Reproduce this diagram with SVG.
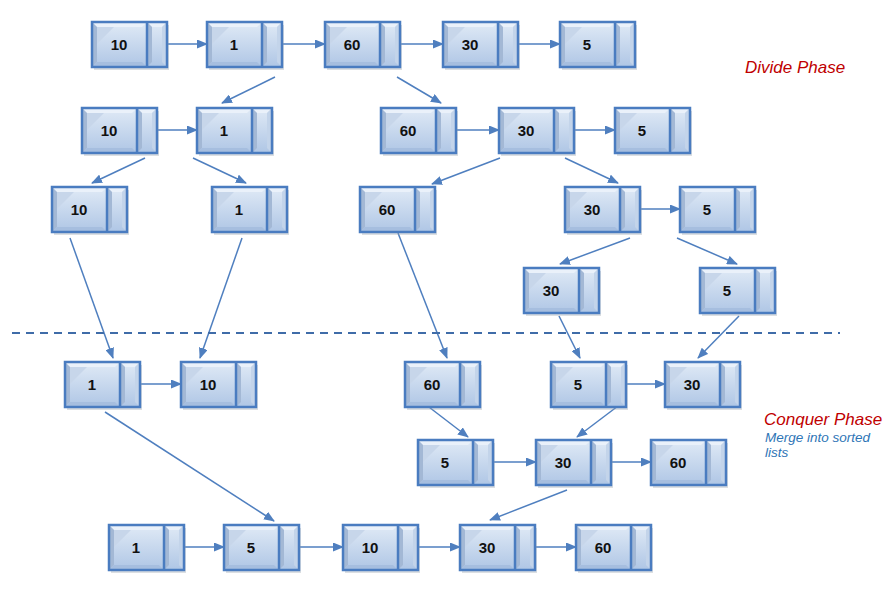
<svg xmlns="http://www.w3.org/2000/svg" xmlns:xlink="http://www.w3.org/1999/xlink" width="887" height="596" viewBox="0 0 887 596">
<style>
.num{font-family:"Liberation Sans",Arial,sans-serif;font-weight:bold;font-size:15px;fill:#111;text-anchor:middle}
.conn line{stroke:#4f7fbf;stroke-width:1.5;marker-end:url(#ah)}
.ttl{font-family:"Liberation Sans",Arial,sans-serif;font-style:italic;fill:#c00000}
.sub{font-family:"Liberation Sans",Arial,sans-serif;font-style:italic;font-size:13.5px;fill:#2e75b6}
</style>
<defs>
<linearGradient id="g" x1="0" y1="0" x2="0" y2="1">
<stop offset="0" stop-color="#e0eaf6"/>
<stop offset="1" stop-color="#afc6e5"/>
</linearGradient>
<marker id="ah" markerUnits="userSpaceOnUse" markerWidth="11" markerHeight="9" refX="10" refY="4.5" orient="auto">
<path d="M0,0 L11,4.5 L0,9 Z" fill="#4f7fbf"/>
</marker>
<g id="node">
<rect x="2" y="3" width="75" height="45" fill="#9aa3ad" opacity="0.35"/>
<rect x="0" y="0" width="75" height="45" fill="url(#g)"/>
<polygon points="0,0 55,0 50,5 5,5" fill="#eaf1fa"/>
<polygon points="0,0 5,5 5,40 0,45" fill="#a3b8d5"/>
<polygon points="0,45 5,40 50,40 55,45" fill="#a6bedf"/>
<polygon points="5,5 22,5 5,22" fill="#c7d6ea"/>
<polygon points="55,0 75,0 70,5 60,5" fill="#eaf1fa"/>
<polygon points="55,0 60,5 60,40 55,45" fill="#a3b8d5"/>
<polygon points="75,0 70,5 70,40 75,45" fill="#c3d4ea"/>
<rect x="0" y="0" width="75" height="45" fill="none" stroke="#4a7cc0" stroke-width="2.5"/>
<line x1="55" y1="0" x2="55" y2="45" stroke="#4a7cc0" stroke-width="2.5"/>
</g>
</defs>
<rect width="887" height="596" fill="#fff"/>

<g class="conn" id="connectors">
<line x1="154" y1="44" x2="207" y2="44"/>
<line x1="269" y1="44" x2="325" y2="44"/>
<line x1="387" y1="44" x2="443" y2="44"/>
<line x1="505" y1="44" x2="560" y2="44"/>
<line x1="144" y1="130" x2="197" y2="130"/>
<line x1="443" y1="130" x2="499" y2="130"/>
<line x1="561" y1="130" x2="615" y2="130"/>
<line x1="627" y1="209" x2="680" y2="209"/>
<line x1="127" y1="384" x2="181" y2="384"/>
<line x1="613" y1="384" x2="665" y2="384"/>
<line x1="480" y1="462" x2="536" y2="462"/>
<line x1="598" y1="462" x2="651" y2="462"/>
<line x1="171" y1="547" x2="224" y2="547"/>
<line x1="286" y1="547" x2="343" y2="547"/>
<line x1="405" y1="547" x2="460" y2="547"/>
<line x1="522" y1="547" x2="576" y2="547"/>
<line x1="275" y1="77" x2="222" y2="103"/>
<line x1="397" y1="77" x2="441" y2="103"/>
<line x1="145" y1="158" x2="92" y2="183"/>
<line x1="193" y1="158" x2="246" y2="183"/>
<line x1="500" y1="158" x2="432" y2="184"/>
<line x1="565" y1="158" x2="618" y2="183"/>
<line x1="630" y1="238" x2="560" y2="264"/>
<line x1="677" y1="238" x2="737" y2="264"/>
<line x1="70" y1="238" x2="113" y2="358"/>
<line x1="242" y1="238" x2="200" y2="358"/>
<line x1="398" y1="233" x2="447" y2="358"/>
<line x1="559" y1="316" x2="580" y2="358"/>
<line x1="739" y1="316" x2="698" y2="358"/>
<line x1="425" y1="404" x2="468" y2="437"/>
<line x1="618" y1="406" x2="577" y2="437"/>
<line x1="105" y1="412" x2="274" y2="521"/>
<line x1="567" y1="490" x2="490" y2="520"/>
</g>

<line id="divider" x1="12" y1="333" x2="840" y2="333" stroke="#3f6ca8" stroke-width="2" stroke-dasharray="8,6"/>

<g id="d1a" transform="translate(92,22)"><use xlink:href="#node" href="#node"/><text class="num" x="27" y="28">10</text></g>
<g id="d1b" transform="translate(207,22)"><use xlink:href="#node" href="#node"/><text class="num" x="27" y="28">1</text></g>
<g id="d1c" transform="translate(325,22)"><use xlink:href="#node" href="#node"/><text class="num" x="27" y="28">60</text></g>
<g id="d1d" transform="translate(443,22)"><use xlink:href="#node" href="#node"/><text class="num" x="27" y="28">30</text></g>
<g id="d1e" transform="translate(560,22)"><use xlink:href="#node" href="#node"/><text class="num" x="27" y="28">5</text></g>

<g id="d2a" transform="translate(82,108)"><use xlink:href="#node" href="#node"/><text class="num" x="27" y="28">10</text></g>
<g id="d2b" transform="translate(197,108)"><use xlink:href="#node" href="#node"/><text class="num" x="27" y="28">1</text></g>
<g id="d2c" transform="translate(381,108)"><use xlink:href="#node" href="#node"/><text class="num" x="27" y="28">60</text></g>
<g id="d2d" transform="translate(499,108)"><use xlink:href="#node" href="#node"/><text class="num" x="27" y="28">30</text></g>
<g id="d2e" transform="translate(615,108)"><use xlink:href="#node" href="#node"/><text class="num" x="27" y="28">5</text></g>

<g id="d3a" transform="translate(52,187)"><use xlink:href="#node" href="#node"/><text class="num" x="27" y="28">10</text></g>
<g id="d3b" transform="translate(212,187)"><use xlink:href="#node" href="#node"/><text class="num" x="27" y="28">1</text></g>
<g id="d3c" transform="translate(360,187)"><use xlink:href="#node" href="#node"/><text class="num" x="27" y="28">60</text></g>
<g id="d3d" transform="translate(565,187)"><use xlink:href="#node" href="#node"/><text class="num" x="27" y="28">30</text></g>
<g id="d3e" transform="translate(680,187)"><use xlink:href="#node" href="#node"/><text class="num" x="27" y="28">5</text></g>

<g id="d4a" transform="translate(524,268)"><use xlink:href="#node" href="#node"/><text class="num" x="27" y="28">30</text></g>
<g id="d4b" transform="translate(700,268)"><use xlink:href="#node" href="#node"/><text class="num" x="27" y="28">5</text></g>

<g id="c1a" transform="translate(65,362)"><use xlink:href="#node" href="#node"/><text class="num" x="27" y="28">1</text></g>
<g id="c1b" transform="translate(181,362)"><use xlink:href="#node" href="#node"/><text class="num" x="27" y="28">10</text></g>
<g id="c1c" transform="translate(405,362)"><use xlink:href="#node" href="#node"/><text class="num" x="27" y="28">60</text></g>
<g id="c1d" transform="translate(551,362)"><use xlink:href="#node" href="#node"/><text class="num" x="27" y="28">5</text></g>
<g id="c1e" transform="translate(665,362)"><use xlink:href="#node" href="#node"/><text class="num" x="27" y="28">30</text></g>

<g id="c2a" transform="translate(418,440)"><use xlink:href="#node" href="#node"/><text class="num" x="27" y="28">5</text></g>
<g id="c2b" transform="translate(536,440)"><use xlink:href="#node" href="#node"/><text class="num" x="27" y="28">30</text></g>
<g id="c2c" transform="translate(651,440)"><use xlink:href="#node" href="#node"/><text class="num" x="27" y="28">60</text></g>

<g id="c3a" transform="translate(109,525)"><use xlink:href="#node" href="#node"/><text class="num" x="27" y="28">1</text></g>
<g id="c3b" transform="translate(224,525)"><use xlink:href="#node" href="#node"/><text class="num" x="27" y="28">5</text></g>
<g id="c3c" transform="translate(343,525)"><use xlink:href="#node" href="#node"/><text class="num" x="27" y="28">10</text></g>
<g id="c3d" transform="translate(460,525)"><use xlink:href="#node" href="#node"/><text class="num" x="27" y="28">30</text></g>
<g id="c3e" transform="translate(576,525)"><use xlink:href="#node" href="#node"/><text class="num" x="27" y="28">60</text></g>

<g id="labels">
<text class="ttl" x="745" y="73" font-size="17">Divide Phase</text>
<text class="ttl" x="764" y="425" font-size="17">Conquer Phase</text>
<text class="sub" x="765" y="442">Merge into sorted</text>
<text class="sub" x="765" y="457">lists</text>
</g>
</svg>
